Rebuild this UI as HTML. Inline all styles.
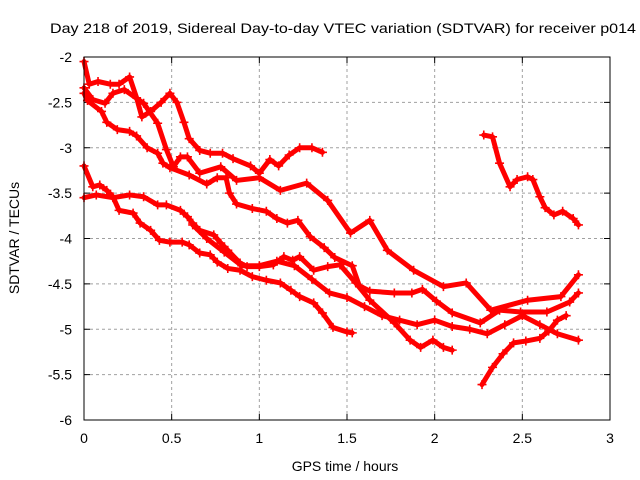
<!DOCTYPE html>
<html><head><meta charset="utf-8"><style>
html,body{margin:0;padding:0;background:#fff;}
svg{display:block;font-family:"Liberation Sans",sans-serif;}
</style></head><body>
<svg id="chart" width="640" height="480" xmlns="http://www.w3.org/2000/svg">
<rect width="640" height="480" fill="#fff"/>
<text x="343" y="33" font-size="14" text-anchor="middle" textLength="586" lengthAdjust="spacingAndGlyphs">Day 218 of 2019, Sidereal Day-to-day VTEC variation (SDTVAR) for receiver p014</text>
<text x="345" y="471" font-size="14" text-anchor="middle">GPS time / hours</text>
<text x="19" y="238" font-size="14" text-anchor="middle" transform="rotate(-90 19 238)">SDTVAR / TECUs</text>
<g id="grid"></g>
<g id="ticks"></g>
<g id="series"></g>
<rect x="84" y="57" width="526" height="363" fill="none" stroke="#000" stroke-width="1"/>
</svg>
<script>
const xTicks=[0,0.5,1,1.5,2,2.5,3];
const xTickLabels=["0","0.5","1","1.5","2","2.5","3"];
const yTicks=[-2,-2.5,-3,-3.5,-4,-4.5,-5,-5.5,-6];
const yTickLabels=["-2","-2.5","-3","-3.5","-4","-4.5","-5","-5.5","-6"];
const t1X=[0,0.03,0.08,0.15,0.2,0.26,0.3,0.33,0.38,0.44,0.49,0.53,0.57,0.6,0.66,0.72,0.79,0.85,0.95,1.0,1.06,1.11,1.17,1.23,1.3,1.36];
const t1Y=[-2.05,-2.3,-2.27,-2.3,-2.3,-2.22,-2.45,-2.66,-2.6,-2.5,-2.4,-2.5,-2.72,-2.9,-3.03,-3.06,-3.06,-3.12,-3.2,-3.28,-3.13,-3.2,-3.08,-3.0,-3.0,-3.05];
const t2X=[0,0.05,0.12,0.165,0.23,0.34,0.42,0.47,0.51,0.55,0.59,0.66,0.78,0.87,1.0,1.12,1.27,1.39,1.52,1.63,1.73,1.88,2.05,2.18,2.32,2.53,2.72,2.82];
const t2Y=[-2.34,-2.47,-2.51,-2.4,-2.36,-2.51,-2.73,-3.02,-3.21,-3.1,-3.1,-3.28,-3.21,-3.36,-3.33,-3.47,-3.39,-3.58,-3.94,-3.8,-4.13,-4.35,-4.53,-4.49,-4.79,-4.68,-4.64,-4.4];
const t3X=[0,0.02,0.1,0.13,0.19,0.26,0.3,0.36,0.42,0.45,0.49,0.6,0.7,0.76,0.81,0.83,0.87,0.96,1.04,1.1,1.16,1.22,1.29,1.37,1.43,1.53,1.57,1.63,1.77,1.87,1.93,2.01,2.1,2.26,2.37,2.49,2.64,2.77,2.82];
const t3Y=[-2.4,-2.48,-2.6,-2.72,-2.8,-2.82,-2.87,-3.0,-3.06,-3.17,-3.22,-3.3,-3.4,-3.33,-3.33,-3.5,-3.62,-3.67,-3.7,-3.78,-3.83,-3.8,-3.98,-4.1,-4.21,-4.3,-4.52,-4.58,-4.6,-4.6,-4.56,-4.69,-4.82,-4.93,-4.79,-4.81,-4.81,-4.7,-4.6];
const l1X=[0,0.05,0.09,0.13,0.165,0.2,0.28,0.32,0.38,0.43,0.49,0.56,0.6,0.66,0.72,0.76,0.82,0.89,0.96,1.04,1.12,1.18,1.23,1.31,1.36,1.42,1.5,1.53];
const l1Y=[-3.2,-3.43,-3.41,-3.47,-3.54,-3.69,-3.72,-3.83,-3.91,-4.02,-4.04,-4.04,-4.07,-4.16,-4.18,-4.26,-4.33,-4.35,-4.42,-4.46,-4.49,-4.57,-4.64,-4.71,-4.82,-4.98,-5.03,-5.04];
const l2X=[0,0.07,0.165,0.26,0.34,0.42,0.47,0.55,0.59,0.62,0.66,0.74,0.78,0.82,0.89,0.93,1.0,1.08,1.14,1.19,1.23,1.31,1.39,1.46,1.55,1.63,1.77,1.86,1.92,1.99,2.05,2.1];
const l2Y=[-3.55,-3.52,-3.55,-3.52,-3.54,-3.63,-3.63,-3.69,-3.76,-3.83,-3.91,-3.96,-4.05,-4.13,-4.27,-4.31,-4.31,-4.29,-4.2,-4.24,-4.2,-4.35,-4.31,-4.29,-4.49,-4.68,-4.93,-5.12,-5.2,-5.12,-5.2,-5.23];
const mX=[0.62,0.7,0.8,0.9,1.0,1.1,1.2,1.3,1.4,1.5,1.6,1.7,1.8,1.9,2.0,2.1,2.2,2.3,2.4,2.5,2.6,2.7,2.82];
const mY=[-3.85,-4.0,-4.15,-4.3,-4.3,-4.25,-4.3,-4.45,-4.6,-4.65,-4.75,-4.85,-4.9,-4.95,-4.9,-4.97,-5.0,-5.05,-4.95,-4.85,-4.95,-5.05,-5.12];
const rX=[2.27,2.33,2.39,2.45,2.52,2.6,2.65,2.7,2.75];
const rY=[-5.61,-5.42,-5.27,-5.15,-5.13,-5.1,-5.02,-4.9,-4.85];
const sX=[2.28,2.33,2.37,2.43,2.47,2.53,2.56,2.6,2.63,2.68,2.73,2.79,2.82];
const sY=[-2.86,-2.88,-3.17,-3.43,-3.35,-3.32,-3.35,-3.54,-3.66,-3.74,-3.7,-3.78,-3.85];

const NS="http://www.w3.org/2000/svg";
const X0=84,X1=610,Y0=57,Y1=420;
function xs(v){return X0+(v-0)/(3-0)*(X1-X0);}
function ys(v){return Y0+(-2-v)/(4)*(Y1-Y0);}
function mk(tag,attrs,parent){const e=document.createElementNS(NS,tag);for(const k in attrs)e.setAttribute(k,attrs[k]);parent.appendChild(e);return e;}
const grid=document.getElementById('grid'),ticks=document.getElementById('ticks'),ser=document.getElementById('series');
xTicks.forEach((t,i)=>{
  const x=xs(t);
  if(i>0&&i<xTicks.length-1){const g=mk('line',{x1:x,x2:x,y1:Y0,y2:Y1,stroke:'#a0a0a0','stroke-dasharray':'3,3'},grid);
  
  }
  mk('line',{x1:x,x2:x,y1:Y1,y2:Y1-6,stroke:'#000'},ticks);
  mk('line',{x1:x,x2:x,y1:Y0,y2:Y0+6,stroke:'#000'},ticks);
  const tx=mk('text',{x:x,y:Y1+23,'font-size':14,'text-anchor':'middle'},ticks);tx.textContent=xTickLabels[i];
  
  
});
yTicks.forEach((t,i)=>{
  const y=ys(t);
  if(i>0&&i<yTicks.length-1){const g=mk('line',{x1:X0,x2:X1,y1:y,y2:y,stroke:'#a0a0a0','stroke-dasharray':'3,3'},grid);
  
  }
  mk('line',{x1:X0,x2:X0+6,y1:y,y2:y,stroke:'#000'},ticks);
  mk('line',{x1:X1,x2:X1-6,y1:y,y2:y,stroke:'#000'},ticks);
  const tx=mk('text',{x:X0-12,y:y+5,'font-size':14,'text-anchor':'end'},ticks);tx.textContent=yTickLabels[i];
  
  
});
const allSeries=[[t1X,t1Y,'series-1'],[t2X,t2Y,'series-2'],[t3X,t3Y,'series-3'],[l1X,l1Y,'series-4'],[l2X,l2Y,'series-5'],[mX,mY,'series-6'],[rX,rY,'series-7'],[sX,sY,'series-8']];
allSeries.forEach(([xa,ya,name])=>{
  const g=mk('g',{},ser);
  
  
  const pts=xa.map((x,i)=>xs(x)+','+ys(ya[i])).join(' ');
  mk('polyline',{points:pts,fill:'none',stroke:'#ff0000','stroke-width':5,'stroke-linejoin':'round','stroke-linecap':'round'},g);
  xa.forEach((x,i)=>{
    const px=xs(x),py=ys(ya[i]);
    const p=mk('path',{d:`M${px-4.5},${py}H${px+4.5}M${px},${py-4.5}V${py+4.5}`,stroke:'#ff0000','stroke-width':1.6},g);
    
    
  });
});
</script>
</body></html>
